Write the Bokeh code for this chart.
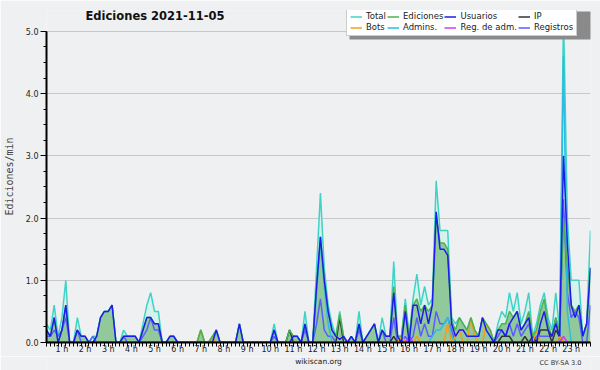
from bokeh.plotting import figure
from bokeh.layouts import column
from bokeh.models import (FixedTicker, Range1d, Legend, LegendItem, Label, PrintfTickFormatter,
                          BoxAnnotation)
from bokeh.embed import file_html
from bokeh.resources import INLINE

# ---- data -------------------------------------------------------------
hours = list(range(1, 24))
hour_labels = [f"{h} h" for h in hours]
# 10-minute buckets from 0:20 to 23:50 (in hours)
slots = [(j + 2) / 6 for j in range(142)]

# one row per hour (first row = 0:20..0:50)
total = [
    0.3, 0.2, 0.6, 0.1,
    0.4, 1.0, 0, 0, 0.4, 0.1,
    0.1, 0, 0.1, 0.1, 0.4, 0.5,
    0.5, 0.6, 0, 0, 0.2, 0.1,
    0.1, 0.1, 0, 0.3, 0.6, 0.8,
    0.5, 0.5, 0, 0, 0.1, 0.1,
    0, 0, 0, 0, 0, 0,
    0.2, 0, 0, 0.1, 0.2, 0,
    0, 0, 0, 0, 0.3, 0,
    0, 0, 0, 0, 0, 0,
    0, 0.3, 0, 0, 0, 0.2,
    0.1, 0.1, 0, 0.5, 0, 0,
    1.2, 2.4, 1.2, 0.6, 0.3, 0.1,
    0.5, 0.1, 0, 0.1, 0, 0.5,
    0, 0.1, 0.2, 0.3, 0, 0.4,
    0.1, 0.1, 1.3, 0.1, 0.1, 0.7,
    0.1, 0.7, 1.1, 0.6, 0.9, 0.6,
    0.7, 2.6, 1.8, 1.8, 1.8, 0.4,
    0.3, 0.4, 0.3, 0.2, 0.4, 0.2,
    0.1, 0.4, 0.3, 0.2, 0, 0.3,
    0.5, 0.4, 0.8, 0.5, 0.8, 0.3,
    0.5, 0.8, 0.1, 0.3, 0.6, 0.8,
    0.4, 0.2, 0.8, 0.2, 5.3, 2.0,
    1.0, 1.0, 1.0, 0.1, 0.3, 1.8,
]
ediciones = [
    0.2, 0.1, 0.4, 0,
    0.2, 0.6, 0, 0, 0.2, 0.1,
    0.1, 0, 0, 0.1, 0.4, 0.5,
    0.5, 0.6, 0, 0, 0.1, 0.1,
    0.1, 0.1, 0, 0.2, 0.4, 0.4,
    0.3, 0.3, 0, 0, 0.1, 0.1,
    0, 0, 0, 0, 0, 0,
    0.2, 0, 0, 0.1, 0.2, 0,
    0, 0, 0, 0, 0.3, 0,
    0, 0, 0, 0, 0, 0,
    0, 0.2, 0, 0, 0, 0.2,
    0.1, 0.1, 0, 0.3, 0, 0,
    0.9, 1.7, 1.0, 0.5, 0.2, 0.1,
    0.45, 0.1, 0, 0.1, 0, 0.3,
    0, 0.1, 0.2, 0.3, 0, 0.2,
    0.1, 0.1, 0.9, 0.1, 0.1, 0.6,
    0.1, 0.6, 0.7, 0.5, 0.6, 0.5,
    0.6, 2.05, 1.6, 1.6, 1.5, 0.35,
    0.2, 0.4, 0.3, 0.2, 0.4, 0.2,
    0.1, 0.4, 0.3, 0.2, 0, 0.2,
    0.3, 0.3, 0.5, 0.4, 0.5, 0.2,
    0.3, 0.5, 0.1, 0.2, 0.5, 0.7,
    0.3, 0.1, 0.4, 0.2, 2.0, 1.2,
    0.6, 0.5, 0.6, 0.1, 0.3, 1.2,
]
usuarios = [
    0.2, 0.1, 0.4, 0,
    0.2, 0.6, 0, 0, 0.2, 0.1,
    0.1, 0, 0, 0.1, 0.4, 0.5,
    0.5, 0.6, 0, 0, 0.1, 0.1,
    0.1, 0.1, 0, 0.2, 0.4, 0.4,
    0.3, 0.3, 0, 0, 0.1, 0.1,
    0, 0, 0, 0, 0, 0,
    0, 0, 0, 0, 0.2, 0,
    0, 0, 0, 0, 0.3, 0,
    0, 0, 0, 0, 0, 0,
    0, 0.2, 0, 0, 0, 0,
    0.1, 0.1, 0, 0.3, 0, 0,
    0.9, 1.7, 1.0, 0.5, 0.2, 0.1,
    0.05, 0.1, 0, 0.1, 0, 0.3,
    0, 0.1, 0.2, 0.3, 0, 0.2,
    0.1, 0.1, 0.8, 0.1, 0, 0.5,
    0, 0.6, 0.6, 0.3, 0.6, 0.3,
    0.6, 2.1, 1.5, 1.5, 1.4, 0.3,
    0.1, 0.2, 0.2, 0.1, 0.1, 0.1,
    0.1, 0.4, 0.2, 0.1, 0, 0.2,
    0.2, 0.1, 0.3, 0.4, 0.5, 0.2,
    0.3, 0.4, 0, 0, 0.3, 0.5,
    0.2, 0.1, 0.3, 0.1, 3.0, 1.6,
    0.6, 0.4, 0.6, 0.1, 0.3, 1.2,
]
ip = [
    0, 0, 0, 0,
    0, 0, 0, 0, 0, 0,
    0, 0, 0, 0, 0, 0,
    0, 0, 0, 0, 0, 0,
    0, 0, 0, 0, 0, 0,
    0, 0, 0, 0, 0, 0,
    0, 0, 0, 0, 0, 0,
    0, 0, 0, 0, 0, 0,
    0, 0, 0, 0, 0, 0,
    0, 0, 0, 0, 0, 0,
    0, 0, 0, 0, 0, 0.2,
    0, 0, 0, 0, 0, 0,
    0, 0, 0, 0, 0, 0,
    0.4, 0, 0, 0, 0, 0,
    0, 0, 0, 0, 0, 0,
    0, 0, 0.1, 0, 0, 0,
    0, 0, 0, 0, 0, 0,
    0, 0, 0, 0, 0, 0,
    0, 0, 0, 0, 0, 0,
    0, 0, 0, 0, 0, 0,
    0.1, 0.1, 0.1, 0, 0, 0,
    0.1, 0, 0.1, 0, 0.2, 0.2,
    0.2, 0, 0.2, 0.1, 0, 0,
    0, 0, 0, 0, 0, 0,
]
bots = [
    0, 0, 0, 0,
    0, 0, 0, 0, 0, 0,
    0, 0, 0, 0, 0, 0,
    0, 0, 0, 0, 0, 0,
    0, 0, 0, 0, 0, 0,
    0, 0, 0, 0, 0, 0,
    0, 0, 0, 0, 0, 0,
    0.2, 0, 0, 0.1, 0, 0,
    0, 0, 0, 0, 0, 0,
    0, 0, 0, 0, 0, 0,
    0, 0, 0, 0, 0, 0,
    0, 0, 0, 0, 0, 0,
    0, 0, 0, 0, 0, 0,
    0, 0, 0, 0, 0, 0,
    0, 0, 0, 0, 0, 0,
    0, 0, 0, 0, 0.1, 0,
    0, 0, 0.1, 0, 0, 0,
    0, 0, 0, 0, 0.3, 0,
    0.1, 0.2, 0, 0, 0.4, 0.1,
    0, 0, 0.3, 0.2, 0, 0,
    0, 0, 0, 0, 0, 0,
    0, 0, 0, 0.2, 0, 0,
    0, 0, 0, 0.1, 0, 0,
    0, 0, 0, 0, 0, 0,
]
admins = [
    0, 0, 0, 0,
    0, 0, 0, 0, 0, 0,
    0, 0, 0, 0, 0, 0,
    0, 0, 0, 0, 0, 0,
    0, 0, 0, 0, 0, 0,
    0, 0, 0, 0, 0, 0,
    0, 0, 0, 0, 0, 0,
    0, 0, 0, 0, 0, 0,
    0, 0, 0, 0, 0, 0,
    0, 0, 0, 0, 0, 0,
    0, 0, 0, 0, 0, 0,
    0, 0, 0, 0, 0, 0,
    0.8, 1.6, 0.9, 0.3, 0, 0,
    0, 0, 0, 0, 0, 0,
    0, 0, 0, 0, 0, 0,
    0, 0, 0, 0, 0, 0,
    0, 0, 0, 0, 0, 0,
    0.1, 0.2, 0.2, 0.3, 0.4, 0.1,
    0, 0, 0, 0, 0, 0,
    0, 0, 0, 0, 0, 0,
    0, 0, 0, 0, 0, 0,
    0, 0, 0, 0, 0, 0,
    0, 0, 0, 0, 4.6, 0.5,
    0, 0, 0, 0, 0, 0,
]
reg_adm = [
    0, 0, 0, 0,
    0, 0, 0, 0, 0, 0,
    0, 0, 0, 0, 0, 0,
    0, 0, 0, 0, 0, 0,
    0, 0, 0, 0, 0, 0,
    0, 0, 0, 0, 0, 0,
    0, 0, 0, 0, 0, 0,
    0, 0, 0, 0, 0, 0,
    0, 0, 0, 0, 0, 0,
    0, 0, 0, 0, 0, 0,
    0, 0, 0, 0, 0, 0,
    0, 0, 0, 0, 0, 0,
    0, 0, 0, 0, 0, 0,
    0, 0, 0, 0, 0, 0,
    0, 0, 0, 0, 0, 0,
    0, 0, 0, 0, 0, 0,
    0.1, 0, 0, 0, 0, 0,
    0, 0, 0, 0, 0, 0,
    0, 0, 0, 0, 0, 0,
    0, 0, 0, 0, 0, 0,
    0, 0, 0, 0, 0, 0,
    0, 0, 0, 0, 0, 0,
    0, 0, 0, 0, 0.1, 0,
    0, 0, 0, 0, 0, 0,
]
registros = [
    0.1, 0.1, 0.2, 0.1,
    0.2, 0.4, 0, 0, 0.2, 0,
    0, 0, 0.1, 0, 0, 0,
    0, 0, 0, 0, 0.1, 0,
    0, 0, 0, 0.1, 0.2, 0.4,
    0.2, 0.2, 0, 0, 0, 0,
    0, 0, 0, 0, 0, 0,
    0, 0, 0, 0, 0, 0,
    0, 0, 0, 0, 0, 0,
    0, 0, 0, 0, 0, 0,
    0, 0.1, 0, 0, 0, 0,
    0, 0, 0, 0.2, 0, 0,
    0.3, 0.7, 0.2, 0.1, 0.1, 0,
    0, 0, 0, 0, 0, 0.2,
    0, 0, 0, 0, 0, 0.2,
    0, 0, 0.4, 0, 0, 0.1,
    0, 0.1, 0.4, 0.1, 0.3, 0.1,
    0.1, 0.5, 0.3, 0.3, 0.4, 0.2,
    0, 0, 0, 0, 0, 0,
    0, 0, 0, 0, 0, 0.1,
    0.2, 0.1, 0.3, 0.1, 0.3, 0.1,
    0.2, 0.3, 0, 0.1, 0.1, 0.1,
    0.1, 0.1, 0.4, 0, 2.3, 0.8,
    0.4, 0.5, 0.4, 0, 0, 0.6,
]

# ---- styling ----------------------------------------------------------
BG = "#eff0f2"
FONT = "DejaVu Sans"
Y_TOP = 5.335  # frame extends a little above the 5.0 line (legend/title area)

p = figure(width=600, height=356, x_range=Range1d(1 / 3, 143 / 6), y_range=Range1d(0, Y_TOP),
           output_backend="svg", toolbar_location=None,
           min_border_left=46, min_border_right=10, min_border_top=10, min_border_bottom=12)
p.background_fill_color = BG
p.border_fill_color = BG
p.outline_line_color = None
p.xgrid.visible = False
p.ygrid.grid_line_color = "#c8c8c8"
p.ygrid.grid_line_width = 1

p.varea(x=slots, y1=0, y2=total, fill_color="#d7f1ec")
p.varea(x=slots, y1=0, y2=ediciones, fill_color="#92c99b")

r_total = p.line(slots, total, line_color="#3fd3c6", line_width=1.5)
r_reg = p.line(slots, registros, line_color="#5c5cff", line_width=1.5)
r_adm = p.line(slots, admins, line_color="#2bbde2", line_width=1.5)
r_ip = p.line(slots, ip, line_color="#333333", line_width=1.5)
r_bots = p.line(slots, bots, line_color="#f39c1e", line_width=1.5)
r_radm = p.line(slots, reg_adm, line_color="#d03cf0", line_width=1.5)
r_edic = p.line(slots, ediciones, line_color="#4db24d", line_width=1.5)
r_usu = p.line(slots, usuarios, line_color="#1c1cee", line_width=1.5)

# axes
xa = p.xaxis[0]
xa.ticker = FixedTicker(ticks=hours, minor_ticks=slots)
xa.major_label_overrides = {h: lab for h, lab in zip(hours, hour_labels)}
xa.axis_line_width = 2
xa.axis_line_color = "black"
xa.major_tick_out = 4
xa.major_tick_in = 0
xa.minor_tick_out = 4
xa.minor_tick_in = 0
xa.major_label_standoff = -2
xa.major_label_text_font = FONT
xa.major_label_text_font_size = "8px"
xa.major_label_text_color = "#222222"

ya = p.yaxis[0]
ya.ticker = FixedTicker(ticks=[0, 1, 2, 3, 4, 5], minor_ticks=[i * 0.25 for i in range(21)])
ya.formatter = PrintfTickFormatter(format="%.1f")
ya.bounds = (0, 5)
ya.axis_line_width = 2
ya.axis_line_color = "black"
ya.major_tick_out = 6
ya.major_tick_in = 0
ya.minor_tick_out = 3
ya.minor_tick_in = 0
ya.major_label_standoff = 2
ya.major_label_text_font = FONT
ya.major_label_text_font_size = "8px"
ya.major_label_text_color = "#222222"
ya.axis_label = "Ediciones/min"
ya.axis_label_text_font = "DejaVu Sans Mono"
ya.axis_label_text_font_size = "10px"
ya.axis_label_text_font_style = "normal"
ya.axis_label_standoff = 8

# legend shadow, then legend
p.add_layout(BoxAnnotation(left=303, right=545, bottom=303, top=331,
                           left_units="screen", right_units="screen",
                           bottom_units="screen", top_units="screen",
                           fill_color="#8a8a8a", fill_alpha=1, line_color=None))
legend = Legend(items=[
    LegendItem(label="Total", renderers=[r_total]),
    LegendItem(label="Ediciones", renderers=[r_edic]),
    LegendItem(label="Usuarios", renderers=[r_usu]),
    LegendItem(label="IP", renderers=[r_ip]),
    LegendItem(label="Bots", renderers=[r_bots]),
    LegendItem(label="Admins.", renderers=[r_adm]),
    LegendItem(label="Reg. de adm.", renderers=[r_radm]),
    LegendItem(label="Registros", renderers=[r_reg]),
], orientation="horizontal", ncols=4, location=(300, 306))
legend.label_text_font = FONT
legend.label_text_font_size = "8.5px"
legend.label_text_color = "#222222"
legend.glyph_width = 12
legend.glyph_height = 9
legend.label_height = 9
legend.label_standoff = 4
legend.spacing = 1
legend.padding = 3
legend.margin = 0
legend.border_line_color = "#999999"
legend.background_fill_color = "white"
legend.background_fill_alpha = 1
p.add_layout(legend)

# title (inside the frame's upper strip)
p.add_layout(Label(x=39, y=327, x_units="screen", y_units="screen", text="Ediciones  2021-11-05",
                   text_font=FONT, text_font_size="11.5px", text_font_style="bold",
                   text_baseline="middle", text_color="#111111"))

# footer strip
f = figure(width=600, height=14, x_range=Range1d(0, 600), y_range=Range1d(0, 14),
           output_backend="svg", toolbar_location=None, x_axis_type=None, y_axis_type=None,
           min_border=0)
f.background_fill_color = BG
f.border_fill_color = BG
f.outline_line_color = None
f.grid.visible = False
f.add_layout(Label(x=300, y=9, text="wikiscan.org", text_font=FONT, text_font_size="7.5px",
                   text_align="center", text_baseline="middle", text_color="#222222"))
f.add_layout(Label(x=590, y=8, text="CC BY-SA 3.0", text_font=FONT, text_font_size="6.5px",
                   text_align="right", text_baseline="middle", text_color="#333333"))

layout = column(p, f, spacing=0)
open("out.html", "w").write(file_html(layout, INLINE))
